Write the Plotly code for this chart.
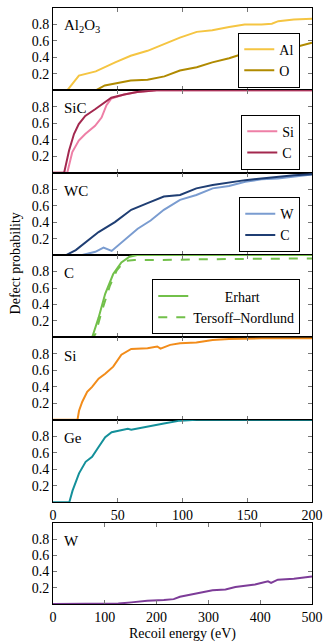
import plotly.graph_objects as go

# ---------------- data ----------------
al_x = [0, 11, 20, 33, 48, 60, 73, 86, 98, 111, 123, 136, 148, 161, 169, 174, 186, 200]
al_y = [0, 0, 0.18, 0.23, 0.34, 0.42, 0.48, 0.56, 0.64, 0.71, 0.73, 0.77, 0.80, 0.80, 0.81, 0.84, 0.86, 0.87]
o_x = [0, 33, 40, 48, 60, 73, 86, 98, 111, 123, 136, 148, 161, 174, 186, 200]
o_y = [0, 0, 0.06, 0.085, 0.12, 0.13, 0.17, 0.24, 0.28, 0.34, 0.39, 0.45, 0.47, 0.50, 0.52, 0.58]

sic_si_x = [0, 11, 14.9, 19.9, 24.9, 32.5, 37.5, 41.3, 45, 55, 65, 80, 200]
sic_si_y = [0, 0, 0.25, 0.39, 0.47, 0.57, 0.67, 0.82, 0.90, 0.95, 0.98, 1.0, 1.0]
sic_c_x = [0, 8.6, 12.4, 16.2, 19.9, 24.9, 32.5, 40, 45, 55, 65, 80, 200]
sic_c_y = [0, 0, 0.27, 0.47, 0.59, 0.69, 0.77, 0.855, 0.91, 0.95, 0.98, 1.0, 1.0]

wc_w_x = [0, 22.6, 32.7, 39, 45.3, 55.3, 65.4, 75.4, 85.6, 98.1, 110.7, 123.3, 135.9, 148.4, 161, 173.6, 186.2, 200]
wc_w_y = [0, 0, 0.04, 0.09, 0.05, 0.18, 0.32, 0.42, 0.55, 0.67, 0.73, 0.81, 0.84, 0.89, 0.92, 0.93, 0.95, 0.98]
wc_c_x = [0, 10.1, 17.6, 25.2, 35.2, 47.8, 60.4, 73, 85.6, 98.1, 110.7, 123.3, 135.9, 148.4, 161, 173.6, 186.2, 200]
wc_c_y = [0, 0, 0.06, 0.16, 0.28, 0.40, 0.55, 0.63, 0.71, 0.73, 0.81, 0.85, 0.88, 0.91, 0.93, 0.95, 0.97, 0.98]

c_erhart_x = [0, 30.2, 35.2, 40.3, 46.5, 52.8, 59.1, 65, 200]
c_erhart_y = [0, 0, 0.24, 0.53, 0.77, 0.91, 0.98, 1.0, 1.0]
c_tersoff_x = [0, 31, 32.7, 37.7, 44, 49.1, 55.4, 62.9, 80, 120, 200]
c_tersoff_y = [0, 0, 0.04, 0.32, 0.63, 0.81, 0.93, 0.94, 0.94, 0.95, 0.96]

si_x = [0, 18.9, 20.1, 22.6, 26.4, 30.2, 35.2, 40.3, 46.5, 52.8, 60.4, 73, 80.5, 83, 90.5, 98.1, 110.7, 123.3, 135.9, 161, 200]
si_y = [0, 0, 0.11, 0.22, 0.34, 0.40, 0.50, 0.56, 0.645, 0.79, 0.86, 0.87, 0.89, 0.865, 0.91, 0.93, 0.94, 0.97, 0.98, 0.99, 0.99]

ge_x = [0, 12.6, 15.1, 20.1, 25.2, 30.2, 35.2, 40.3, 45.3, 52.8, 57.8, 60.4, 73, 85.6, 98.1, 110.7, 200]
ge_y = [0, 0, 0.14, 0.35, 0.49, 0.55, 0.67, 0.79, 0.85, 0.87, 0.89, 0.88, 0.92, 0.955, 0.99, 1.0, 1.0]

w_x = [0, 126, 151, 182, 214, 233, 245, 277, 308, 333, 352, 390, 415, 421, 434, 465, 500]
w_y = [0, 0.005, 0.02, 0.04, 0.05, 0.06, 0.09, 0.13, 0.17, 0.18, 0.21, 0.24, 0.28, 0.26, 0.30, 0.31, 0.34]

panel_labels = ["Al<sub>2</sub>O<sub>3</sub>", "SiC", "WC", "C", "Si", "Ge", "W"]
y_ticks = [0.2, 0.4, 0.6, 0.8]
x_ticks_short = [0, 50, 100, 150, 200]
x_ticks_long = [0, 100, 200, 300, 400, 500]

# ---------------- figure ----------------
FONT = "Liberation Serif"
W, H = 330, 642
ML, MR, MT, MB = 53, 12, 7, 38
plot_h = H - MT - MB

fig = go.Figure()

def add(x, y, name, color, row, legend=None, dash="solid"):
    fig.add_trace(go.Scatter(
        x=x, y=y, name=name, mode="lines",
        line=dict(color=color, width=2, dash=dash),
        xaxis="x" if row == 1 else f"x{row}",
        yaxis="y" if row == 1 else f"y{row}",
        legend=legend if legend else "legend",
        showlegend=legend is not None,
    ))

add(al_x, al_y, "Al", "#f5c542", 1, "legend")
add(o_x, o_y, "O", "#b08a00", 1, "legend")
add(sic_si_x, sic_si_y, "Si", "#ee7fa6", 2, "legend2")
add(sic_c_x, sic_c_y, "C", "#a3284f", 2, "legend2")
add(wc_w_x, wc_w_y, "W", "#7a9cd0", 3, "legend3")
add(wc_c_x, wc_c_y, "C", "#1f3e73", 3, "legend3")
add(c_erhart_x, c_erhart_y, "\u00a0" * 9 + "Erhart", "#72c04a", 4, "legend4")
add(c_tersoff_x, c_tersoff_y, "Tersoff–Nordlund", "#72c04a", 4, "legend4", dash="dash")
add(si_x, si_y, "Si", "#f28c1a", 5)
add(ge_x, ge_y, "Ge", "#14909a", 6)
add(w_x, w_y, "W", "#7d3c98", 7)

def py_to_paper(py):
    return (H - MB - py) / plot_h

def clamp(v):
    return round(min(1.0, max(0.0, v)), 6)

top6 = 1.0
bot6 = py_to_paper(502)
ph = (top6 - bot6) / 6
domains = [[clamp(bot6 + (5 - i) * ph), clamp(bot6 + (6 - i) * ph)] for i in range(6)]
domains.append([0, clamp(py_to_paper(522.7))])

axis_common = dict(
    showline=True, linecolor="black", linewidth=1, mirror="allticks",
    ticks="inside", ticklen=4, tickwidth=1, tickcolor="#777",
    showgrid=False, zeroline=False,
    tickfont=dict(family=FONT, size=14, color="black"),
)

layout = dict(
    width=W, height=H,
    margin=dict(l=ML, r=MR, t=MT, b=MB),
    paper_bgcolor="white", plot_bgcolor="white",
    font=dict(family=FONT, size=14, color="black"),
    showlegend=True,
)

for i in range(7):
    r = i + 1
    xk = "xaxis" if r == 1 else f"xaxis{r}"
    yk = "yaxis" if r == 1 else f"yaxis{r}"
    long = (r == 7)
    layout[xk] = dict(
        axis_common,
        range=[0, 500] if long else [0, 200],
        tickvals=x_ticks_long if long else x_ticks_short,
        ticktext=[str(v) for v in (x_ticks_long if long else x_ticks_short)],
        showticklabels=(r in (6, 7)),
        anchor="y" if r == 1 else f"y{r}",
        domain=[0, 1],
    )
    layout[yk] = dict(
        axis_common,
        range=[0, 1.0],
        tickvals=y_ticks,
        ticktext=[f"{v:.1f}" for v in y_ticks],
        anchor="x" if r == 1 else f"x{r}",
        domain=domains[i],
    )

def legend_box(right_px, bottom_py):
    return dict(
        x=(right_px - ML) / (W - ML - MR), xanchor="right",
        y=py_to_paper(bottom_py), yanchor="bottom",
        bgcolor="white", bordercolor="black", borderwidth=1,
        font=dict(family=FONT, size=14, color="black"),
        itemwidth=30, tracegroupgap=0,
    )

layout["legend"] = legend_box(306, 86.7)
layout["legend2"] = legend_box(306, 169)
layout["legend3"] = legend_box(306, 251.5)
layout["legend4"] = legend_box(306, 334)

fig.update_layout(**layout)

# panel labels
for i, lab in enumerate(panel_labels):
    r = i + 1
    xr = "x domain" if r == 1 else f"x{r} domain"
    yr = "y domain" if r == 1 else f"y{r} domain"
    fig.add_annotation(text=lab, xref=xr, yref=yr, x=0.035, y=0.78,
                       xanchor="left", yanchor="middle", showarrow=False,
                       font=dict(family=FONT, size=15, color="black"))

fig.add_annotation(text="Defect probability", xref="paper", yref="paper",
                   x=(15 - ML) / (W - ML - MR), y=py_to_paper(263),
                   textangle=-90, showarrow=False, xanchor="center", yanchor="middle",
                   font=dict(family=FONT, size=14, color="black"))
fig.add_annotation(text="Recoil energy (eV)", xref="paper", yref="paper",
                   x=0.5, y=py_to_paper(634), showarrow=False,
                   xanchor="center", yanchor="middle",
                   font=dict(family=FONT, size=14, color="black"))

fig.write_html("out.html",
               config={"displayModeBar": False},
               post_script="document.body.style.margin='0';document.body.style.overflow='hidden';")
